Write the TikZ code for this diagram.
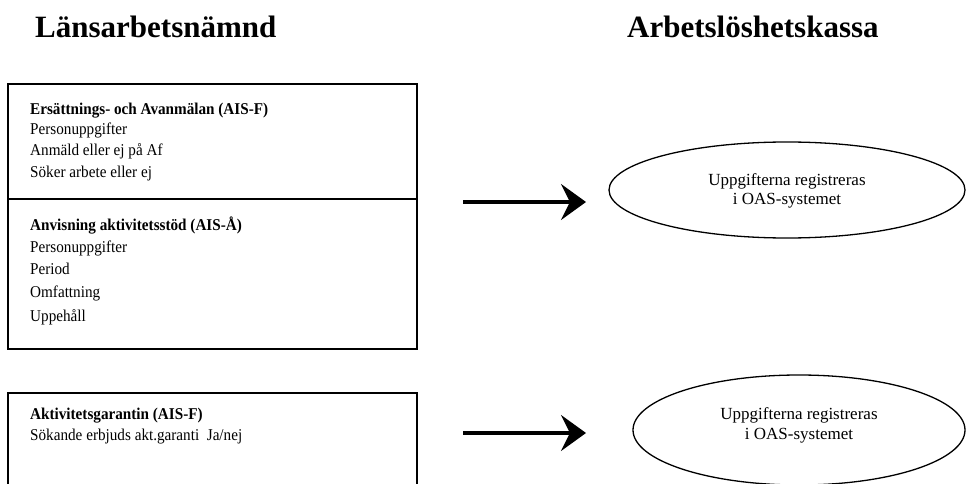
\documentclass[tikz,border=0pt]{standalone}
\usepackage{fontspec}
\setmainfont{Liberation Serif}
\usetikzlibrary{shapes.geometric,arrows.meta}
\newcommand{\narrowtxt}[1]{\scalebox{0.92}[1]{#1}}
\begin{document}
\begin{tikzpicture}[x=1pt,y=-1pt,
  title/.style={anchor=base west,inner sep=0,font=\fontsize{31}{36}\selectfont\bfseries},
  txt/.style={anchor=base west,inner sep=0,font=\fontsize{16.5}{20}\selectfont},
  btxt/.style={anchor=base west,inner sep=0,font=\fontsize{16.5}{20}\selectfont\bfseries},
  etxt/.style={anchor=base,inner sep=0,font=\fontsize{17}{20}\selectfont},
  frame/.style={draw=black,line width=1.8pt},
  oval/.style={draw=black,line width=1.3pt,ellipse,inner sep=0},
  bigarrow/.style={line width=3.2pt,-{Stealth[length=25pt,width=36pt,inset=9pt]}}]
\useasboundingbox (0,0) rectangle (966,484);
\clip (0,0) rectangle (966,484);

% titles
\node[title] (t1) at (35,38) {Länsarbetsnämnd};
\node[title] (t2) at (627,38) {Arbetslöshetskassa};

% top box
\draw[frame] (8,84) rectangle (417,349);
\draw[frame] (8,199) -- (417,199);
\node[btxt] (h1) at (30,114) {\narrowtxt{Ersättnings- och Avanmälan (AIS-F)}};
\node[txt] (l11) at (30,135) {\narrowtxt{Personuppgifter}};
\node[txt] (l12) at (30,156) {\narrowtxt{Anmäld eller ej på Af}};
\node[txt] (l13) at (30,177) {\narrowtxt{Söker arbete eller ej}};
\node[btxt] (h2) at (30,230) {\narrowtxt{Anvisning aktivitetsstöd (AIS-Å)}};
\node[txt] (l21) at (30,252) {\narrowtxt{Personuppgifter}};
\node[txt] (l22) at (30,274) {\narrowtxt{Period}};
\node[txt] (l23) at (30,297) {\narrowtxt{Omfattning}};
\node[txt] (l24) at (30,321) {\narrowtxt{Uppehåll}};

% bottom box (cut by page bottom)
\draw[frame] (8,500) -- (8,393) -- (417,393) -- (417,500);
\node[btxt] (h3) at (30,419) {\narrowtxt{Aktivitetsgarantin (AIS-F)}};
\node[txt] (l31) at (30,440) {\narrowtxt{Sökande erbjuds akt.garanti\ \ Ja/nej}};

% ellipses
\node[oval,minimum width=356pt,minimum height=96pt] (e1) at (787,190) {};
\node[etxt] (e1a) at (787,185) {Uppgifterna registreras};
\node[etxt] (e1b) at (787,204) {i OAS-systemet};
\node[oval,minimum width=332pt,minimum height=110pt] (e2) at (799,430) {};
\node[etxt] (e2a) at (799,419) {Uppgifterna registreras};
\node[etxt] (e2b) at (799,439) {i OAS-systemet};

% arrows
\coordinate (a1s) at (463,202);
\coordinate (a1e) at (586,202);
\coordinate (a2s) at (463,433);
\coordinate (a2e) at (586,433);
\draw[bigarrow] (a1s) -- (a1e);
\draw[bigarrow] (a2s) -- (a2e);
\end{tikzpicture}
\end{document}
